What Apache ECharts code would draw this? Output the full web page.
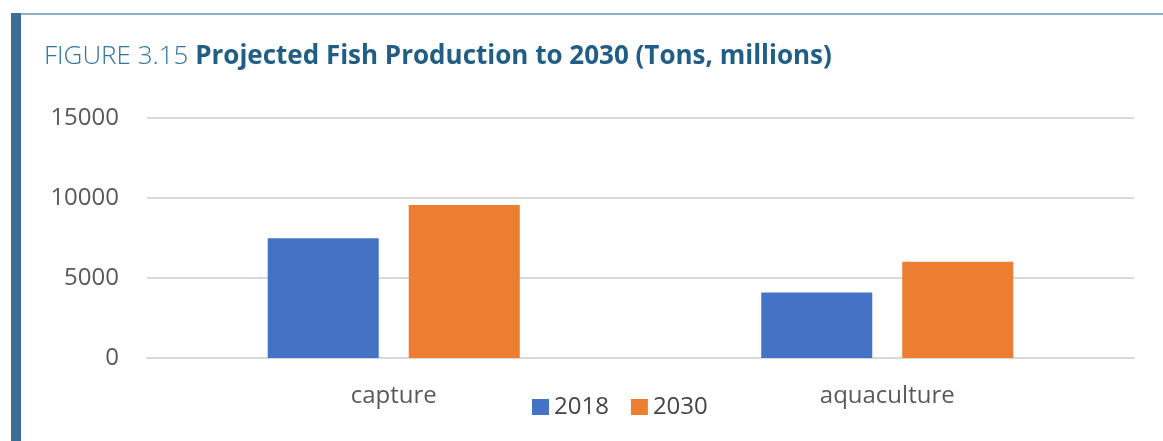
<!DOCTYPE html>
<html>
<head>
<meta charset="utf-8">
<script src="https://cdn.jsdelivr.net/npm/echarts@6/dist/echarts.min.js"></script>
<style>
  html, body { margin: 0; padding: 0; background: #fff; }
  #chart { width: 1163px; height: 441px; }
</style>
</head>
<body>
<div id="chart"></div>
<script>
// Projected fish production, tons (millions)
const categories = ['capture', 'aquaculture'];
const seriesNames = ['2018', '2030'];
const values2018 = [7480, 4100];
const values2030 = [9560, 6020];
const yTicks = { min: 0, max: 15000, interval: 5000 };

const chart = echarts.init(document.getElementById('chart'), null, { renderer: 'canvas' });

chart.setOption({
  backgroundColor: '#ffffff',
  animation: false,
  graphic: [
    { type: 'rect', shape: { x: 11, y: 13, width: 1152, height: 2 }, style: { fill: '#8fb0c4' } },
    { type: 'rect', shape: { x: 11, y: 13, width: 10, height: 428 }, style: { fill: '#3c6f94' } }
  ],
  title: {
    text: '{a|FIGURE 3.15 }{b|Projected Fish Production to 2030 (Tons, millions)}',
    left: 39,
    top: 39,
    textStyle: {
      rich: {
        a: { fontFamily: 'Open Sans', fontSize: 26, fontWeight: 300, color: '#3274a0' },
        b: { fontFamily: 'Open Sans', fontSize: 26, fontWeight: 'bold', color: '#215e86' }
      }
    }
  },
  grid: { left: 147, right: 29, top: 118, bottom: 83, containLabel: false },
  legend: {
    data: seriesNames,
    left: 527,
    top: 390,
    itemWidth: 17,
    itemHeight: 16,
    itemGap: 22,
    icon: 'rect',
    textStyle: { fontFamily: 'Open Sans', fontSize: 24, color: '#454545' }
  },
  xAxis: {
    type: 'category',
    data: categories,
    axisLine: { lineStyle: { color: '#d9d9d9', width: 2 } },
    axisTick: { show: false },
    axisLabel: { margin: 26, fontFamily: 'Open Sans', fontSize: 24, color: '#595959' }
  },
  yAxis: {
    type: 'value',
    min: yTicks.min,
    max: yTicks.max,
    interval: yTicks.interval,
    axisLine: { show: false },
    axisTick: { show: false },
    axisLabel: {
      margin: 28, fontFamily: 'Open Sans', fontSize: 24, color: '#595959',
      formatter: v => String(v)
    },
    splitLine: { lineStyle: { color: '#d9d9d9', width: 2 } }
  },
  series: [
    {
      name: seriesNames[0], type: 'bar', data: values2018,
      barWidth: '22.5%', barGap: '27%',
      itemStyle: { color: '#4472c4' }
    },
    {
      name: seriesNames[1], type: 'bar', data: values2030,
      barWidth: '22.5%', barGap: '27%',
      itemStyle: { color: '#ed7d31' }
    }
  ]
});
</script>
</body>
</html>
